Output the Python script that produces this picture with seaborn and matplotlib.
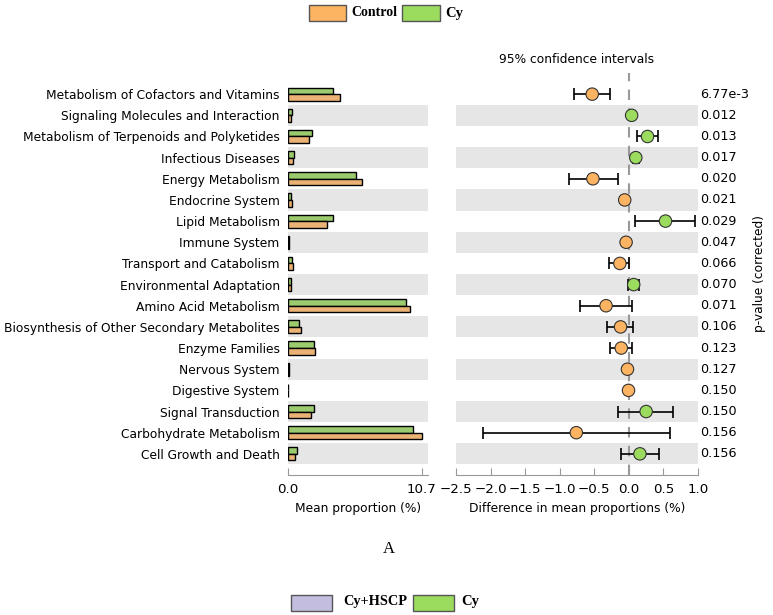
import numpy as np
import pandas as pd
import seaborn as sns
import matplotlib.pyplot as plt
from matplotlib.patches import Rectangle

# pathways, top to bottom
pathways = ['Metabolism of Cofactors and Vitamins', 'Signaling Molecules and Interaction',
            'Metabolism of Terpenoids and Polyketides', 'Infectious Diseases',
            'Energy Metabolism', 'Endocrine System', 'Lipid Metabolism', 'Immune System',
            'Transport and Catabolism', 'Environmental Adaptation', 'Amino Acid Metabolism',
            'Biosynthesis of Other Secondary Metabolites', 'Enzyme Families', 'Nervous System',
            'Digestive System', 'Signal Transduction', 'Carbohydrate Metabolism',
            'Cell Growth and Death']

# mean proportion (%)
control = [4.16, 0.22, 1.68, 0.37, 5.89, 0.32, 3.09, 0.08, 0.43, 0.23, 9.73, 1.01, 2.16, 0.10,
           0.02, 1.81, 10.70, 0.53]
cy = [3.63, 0.28, 1.95, 0.48, 5.41, 0.24, 3.57, 0.08, 0.32, 0.21, 9.41, 0.85, 2.05, 0.10,
      0.02, 2.05, 9.97, 0.69]

# difference in mean proportions and 95% CI
diff = [-0.53, 0.04, 0.27, 0.10, -0.52, -0.06, 0.53, -0.04, -0.13, 0.07, -0.33, -0.12, -0.11,
        -0.02, -0.005, 0.25, -0.76, 0.16]
ci_low = [-0.80, 0.02, 0.12, 0.06, -0.87, -0.08, 0.09, -0.06, -0.28, -0.01, -0.71, -0.31, -0.27,
          -0.04, -0.015, -0.15, -2.11, -0.12]
ci_high = [-0.27, 0.06, 0.42, 0.14, -0.15, -0.04, 0.96, -0.02, 0.005, 0.15, 0.04, 0.06, 0.05,
           0.00, 0.005, 0.64, 0.59, 0.44]
pvals = ['6.77e-3', '0.012', '0.013', '0.017', '0.020', '0.021', '0.029', '0.047', '0.066',
         '0.070', '0.071', '0.106', '0.123', '0.127', '0.150', '0.150', '0.156', '0.156']

orange = '#fdb462'
green = '#9bdb5e'
purple = '#c3bddf'
band = '#e6e6e6'

n = len(pathways)
df = pd.DataFrame({'pathway': pathways * 2,
                   'value': cy + control,
                   'group': ['Cy'] * n + ['Control'] * n})
dd = pd.DataFrame({'pathway': pathways, 'diff': diff, 'lo': ci_low, 'hi': ci_high})
dd['pos'] = np.arange(n)
dd['grp'] = np.where(dd['diff'] > 0, 'Cy', 'Control')

fig = plt.figure(figsize=(7.73, 6.15), dpi=100)
ax1 = fig.add_axes([288 / 773, 1 - 475 / 615, 140 / 773, 402 / 615])
ax2 = fig.add_axes([456 / 773, 1 - 475 / 615, 242 / 773, 402 / 615])

fs = 8.8

# left: bars
for i in range(1, n, 2):
    ax1.axhspan(i - 0.5, i + 0.5, color=band, zorder=0, lw=0)
sns.barplot(data=df, y='pathway', x='value', hue='group', hue_order=['Cy', 'Control'],
            palette={'Cy': green, 'Control': orange}, orient='h', width=0.62,
            edgecolor='black', linewidth=1.0, legend=False, ax=ax1, zorder=2)
ax1.set_xlim(0, 11.2)
ax1.set_ylim(18, -1)
ax1.set_xticks([0, 10.7])
ax1.set_xticklabels(['0.0', '10.7'], fontsize=fs + 0.8)
ax1.set_ylabel('')
ax1.set_xlabel('Mean proportion (%)', fontsize=fs)
ax1.tick_params(axis='y', length=0, labelsize=fs, pad=6)

# right: confidence intervals
for i in range(1, n, 2):
    ax2.axhspan(i - 0.5, i + 0.5, color=band, zorder=0, lw=0)
ax2.axvline(0, color='#999999', ls=(0, (5, 4)), lw=1.5, zorder=1)
ax2.errorbar(dd['diff'], dd['pos'], xerr=[dd['diff'] - dd['lo'], dd['hi'] - dd['diff']],
             fmt='none', ecolor='black', elinewidth=1.2, capsize=4, capthick=1.2, zorder=2)
sns.scatterplot(data=dd, x='diff', y='pos', hue='grp', palette={'Cy': green, 'Control': orange},
                s=80, edgecolor='#333333', linewidth=0.8, legend=False, ax=ax2, zorder=3)
ax2.set_xlim(-2.5, 1.0)
ax2.set_ylim(18, -1)
ax2.set_xticks(np.arange(-2.5, 1.01, 0.5))
ax2.set_xticklabels([f'{t:.1f}'.replace('-', '\u2212') for t in np.arange(-2.5, 1.01, 0.5)],
                    fontsize=fs + 0.8)
ax2.set_yticks([])
ax2.set_ylabel('')
ax2.set_xlabel('Difference in mean proportions (%)', fontsize=fs)
ax2.set_title('95% confidence intervals', fontsize=fs, pad=7)
for i, p in enumerate(pvals):
    ax2.text(1.008, i, p, transform=ax2.get_yaxis_transform(), va='center', ha='left',
             fontsize=fs + 0.4)

for ax in (ax1, ax2):
    for s in ('top', 'right', 'left'):
        ax.spines[s].set_visible(False)
    ax.spines['bottom'].set_color('#999999')
    ax.tick_params(axis='x', direction='in', length=5, color='#999999', pad=6)

fig.text(760 / 773, 1 - 274 / 615, 'p-value (corrected)', rotation=90, ha='center',
         va='center', fontsize=fs)

# legends drawn as figure decorations
serif = 'Liberation Serif'
fig.patches.append(Rectangle((309 / 773, 1 - 21 / 615), 37 / 773, 16 / 615, transform=fig.transFigure,
                             facecolor=orange, edgecolor='#555555', lw=1))
fig.text(351 / 773, 1 - 13 / 615, 'Control', fontfamily=serif, fontweight='bold', fontsize=10,
         va='center')
fig.patches.append(Rectangle((402 / 773, 1 - 21 / 615), 38 / 773, 16 / 615, transform=fig.transFigure,
                             facecolor=green, edgecolor='#555555', lw=1))
fig.text(445 / 773, 1 - 13 / 615, 'Cy', fontfamily=serif, fontweight='bold', fontsize=10.5,
         va='center')

fig.text(389 / 773, 1 - 549 / 615, 'A', fontfamily=serif, fontsize=12, ha='center', va='center')
fig.patches.append(Rectangle((291 / 773, 1 - 611 / 615), 41 / 773, 16 / 615, transform=fig.transFigure,
                             facecolor=purple, edgecolor='#555555', lw=1))
fig.text(343 / 773, 1 - 602 / 615, 'Cy+HSCP', fontfamily=serif, fontweight='bold', fontsize=10.3,
         va='center')
fig.patches.append(Rectangle((413 / 773, 1 - 611 / 615), 41 / 773, 16 / 615, transform=fig.transFigure,
                             facecolor=green, edgecolor='#555555', lw=1))
fig.text(461 / 773, 1 - 602 / 615, 'Cy', fontfamily=serif, fontweight='bold', fontsize=10.5,
         va='center')

fig.savefig('out.png', dpi=100)
